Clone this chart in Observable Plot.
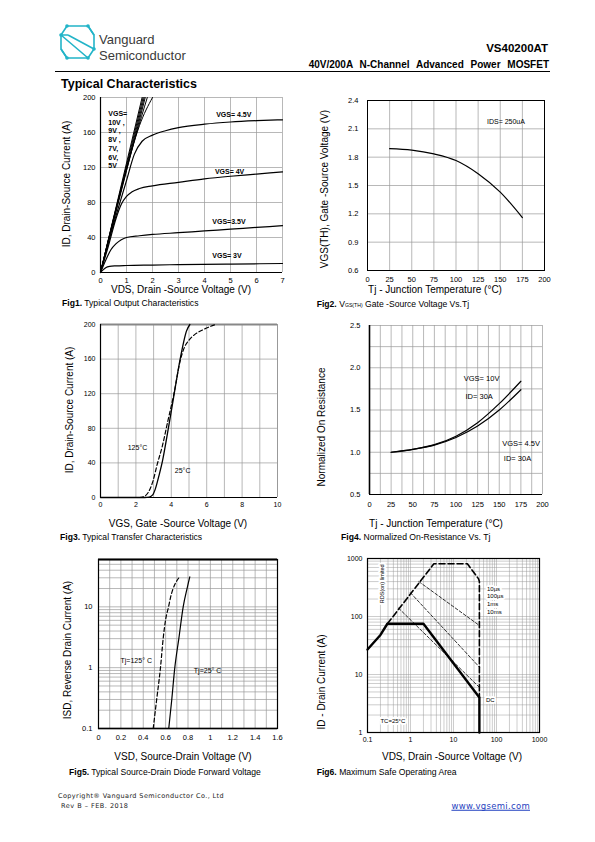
<!DOCTYPE html>
<html><head><meta charset="utf-8">
<script src="https://cdn.jsdelivr.net/npm/d3@7"></script>
<script src="https://cdn.jsdelivr.net/npm/@observablehq/plot@0.6"></script>
<style>
body{margin:0;background:#fff;}
#page{position:relative;width:595px;height:842px;overflow:hidden;font-family:"Liberation Sans",Arial,sans-serif;color:#000;}
.t{position:absolute;white-space:nowrap;line-height:1;}
sub{font-size:0.6em;vertical-align:-0.15em;}
</style></head><body><div id="page">
<svg style="position:absolute;left:55px;top:21px" width="46" height="42" viewBox="0 0 46 42">
 <g fill="none" stroke="#22b4c8" stroke-width="1.6" stroke-linejoin="round">
  <path d="M12,5 L33,5 L39,14 L39,28 L33,37 L12,37"/>
  <path d="M12,5 L6,14 L6,28 L12,37"/>
  <path d="M6,14 L33,37 M13,14 L39,28 M6,14 L13,14 M33,5 L39,14 M12,37 L6,28"/>
 </g>
 <g fill="#22b4c8"><circle cx="12" cy="5" r="1.8"/><circle cx="33" cy="5" r="1.8"/><circle cx="39" cy="28" r="1.8"/><circle cx="6" cy="14" r="1.8"/><circle cx="12" cy="37" r="1.8"/><circle cx="33" cy="37" r="1.8"/></g>
</svg>
</div>
<script>
// ---------- DATA ----------
// Fig1 output characteristics: [VDS, ID]
const f1_vds_ticks = [0,1,2,3,4,5,6,7];
const f1_id_ticks = [0,40,80,120,160,200];
const f1_vgs10 = [[0,0],[1.6,200]];
const f1_vgs9 = [[0,0],[1.64,200]];
const f1_vgs8 = [[0,0],[1.68,200]];
const f1_vgs7 = [[0,0],[1.72,200]];
const f1_vgs6 = [[0,0],[0.9,108],[1.8,200]];
const f1_vgs5 = [[0,0],[0.9,106],[1.5,168],[2.0,200]];
const f1_vgs45 = [[0,0],[0.5,55],[1,105],[1.3,135],[1.6,150],[2,157],[2.5,162],[3,165.5],[4,169.5],[5,172],[6,173.5],[7,174.5]];
const f1_vgs4 = [[0,0],[0.3,30],[0.6,62],[0.8,78],[1,87],[1.2,92],[1.5,96],[2,99],[3,103],[4,107],[5,110],[6,112.5],[7,115]];
const f1_vgs35 = [[0,0],[0.2,14],[0.4,26],[0.6,33],[0.8,37.5],[1,40],[1.5,42],[2,43.5],[3,45.5],[4,47.5],[5,49.5],[6,51.5],[7,53.5]];
const f1_vgs3 = [[0,0],[0.1,3],[0.2,5.5],[0.35,7],[0.6,7.6],[1,8],[2,8.5],[3,9],[5,9.6],[7,10.3]];
const f1_labels = [
  {t:"VGS= 4.5V", x:4.45, y:180.5},
  {t:"VGS= 4V", x:4.4, y:115},
  {t:"VGS=3.5V", x:4.3, y:58.5},
  {t:"VGS= 3V", x:4.3, y:19.5},
  {t:"VGS=\n10V ,\n9V ,\n8V ,\n7V,\n6V,\n5V", x:0.3, y:186}
];
// Fig2 threshold voltage vs Tj
const f2_tj_ticks = [0,25,50,75,100,125,150,175,200];
const f2_v_ticks = [0.6,0.9,1.2,1.5,1.8,2.1,2.4];
const f2_tj = [25,50,75,100,125,150,175];
const f2_vth = [1.89,1.875,1.835,1.765,1.625,1.43,1.16];
// Fig3 transfer characteristics [VGS, ID]
const f3_vgs_ticks = [0,2,4,6,8,10];
const f3_vgs_grid = [1,2,3,4,5,6,7,8,9,10];
const f3_id_ticks = [0,40,80,120,160,200];
const f3_25C = [[0,0],[2.5,0],[2.75,0.5],[2.95,3],[3.1,10],[3.3,25],[3.5,42],[3.75,70],[4.1,112],[4.5,160],[4.7,180],[4.85,192],[5.05,200]];
const f3_125C = [[0,0],[2.2,0],[2.45,1],[2.7,6],[2.95,18],[3.2,38],[3.5,60],[3.8,88],[4.15,120],[4.5,158],[4.75,174],[5.0,182],[5.3,188],[5.8,194],[6.5,200]];
// Fig4 normalized Rds(on) vs Tj
const f4_tj_ticks = [0,25,50,75,100,125,150,175,200];
const f4_r_ticks = [0.5,1.0,1.5,2.0,2.5];
const f4_tj = [25,50,75,100,125,150,175];
const f4_vgs10 = [1.0,1.035,1.09,1.19,1.35,1.575,1.84];
const f4_vgs45 = [1.0,1.035,1.085,1.175,1.31,1.5,1.74];
// Fig5 diode forward [VSD, ISD]
const f5_v_ticks = [0,0.2,0.4,0.6,0.8,1,1.2,1.4,1.6];
const f5_i_ticks = [0.1,1,10];
const f5_25C = [[0.628,0.1],[0.655,0.3],[0.682,1],[0.718,3],[0.757,10],[0.793,20.5],[0.816,31]];
const f5_125C = [[0.489,0.1],[0.52,0.3],[0.554,1],[0.578,3],[0.599,6],[0.626,10],[0.643,14],[0.724,31]];
// Fig6 SOA [VDS, ID]
const f6_v_ticks = [0.1,1,10,100,1000];
const f6_i_ticks = [1,10,100,1000];
const f6_dc = [[0.1,27],[0.2,48],[0.29,75],[2,75],[40,4],[40,1]];
const f6_10us = [[0.29,75],[3.5,810],[21,810],[38,450],[40,400],[40,4]];
const f6_100us = [[1.56,400],[40,70]];
const f6_1ms = [[1.0,256],[40,13.4]];
const f6_10ms = [[0.53,139],[40,6]];

// ---------- HELPERS ----------
const page = document.getElementById("page");
const FN = '"Liberation Sans Narrow","Liberation Sans",Arial,sans-serif';
const FA = '"Liberation Sans",Arial,sans-serif';
function txt(html, x, y, css, tr) {
  const d = document.createElement("div");
  d.className = "t"; d.innerHTML = html;
  d.style.left = x + "px"; d.style.top = y + "px";
  d.style.transform = tr || "translate(0,-50%)";
  Object.assign(d.style, css || {});
  page.appendChild(d); return d;
}
function xtitle(s, cx, cy) { txt(s, cx, cy, {fontSize:"10px"}, "translate(-50%,-50%)"); }
function ytitle(s, cx, cy) { txt(s, cx, cy, {fontSize:"10px"}, "translate(-50%,-50%) rotate(-90deg)"); }
function chart(frame, x, y, marks, font, fs) {
  const [x0,y0,x1,y1] = frame;
  const mL=44,mR=16,mT=10,mB=22;
  const svg = Plot.plot({
    width: x1-x0+mL+mR, height: y1-y0+mT+mB,
    marginLeft:mL, marginRight:mR, marginTop:mT, marginBottom:mB,
    x, y,
    style:{fontFamily:font, fontSize:fs+"px", color:"#000", background:"transparent", overflow:"visible"},
    marks
  });
  svg.style.position="absolute"; svg.style.left=(x0-mL)+"px"; svg.style.top=(y0-mT)+"px";
  page.appendChild(svg);
}
const G = {stroke:"#9a9a9a", strokeOpacity:1, strokeWidth:0.7};
const str = d => String(d);
function ln(data, o) { return Plot.line(data, {x:d=>d[0], y:d=>d[1], stroke:"#000", strokeWidth:1.2, curve:"monotone-x", ...o}); }
function minor(lo, hi) { const out=[]; for (let p=lo; p<hi; p++) for (let k=1;k<10;k++) out.push(k*Math.pow(10,p)); out.push(Math.pow(10,hi)); return out; }
const halo = {fill:"#000", stroke:"#fff", strokeWidth:4, paintOrder:"stroke"};

// ---------- HEADER / FOOTER ----------
txt("Vanguard", 99, 38.5, {fontSize:"13px", color:"#3a3a3a"});
txt("Semiconductor", 99, 55, {fontSize:"13px", color:"#3a3a3a"});
txt("VS40200AT", 548, 49, {fontSize:"11.5px", fontWeight:"bold"}, "translate(-100%,-50%)");
txt("40V/200A N-Channel Advanced Power MOSFET", 549, 65, {fontSize:"10px", fontWeight:"bold", wordSpacing:"4px"}, "translate(-100%,-50%)");
const hr = document.createElement("div");
Object.assign(hr.style,{position:"absolute",left:"55px",top:"71px",width:"495px",height:"1px",background:"#000"});
page.appendChild(hr);
txt("Typical Characteristics", 61, 84, {fontSize:"12.5px", fontWeight:"bold"});
txt("Copyright® Vanguard Semiconductor Co., Ltd", 58, 795.5, {fontSize:"6.5px", fontFamily:'"DejaVu Sans",sans-serif', letterSpacing:"0.4px", color:"#222"});
txt("Rev B – FEB. 2018", 61, 806.3, {fontSize:"6.5px", fontFamily:'"DejaVu Sans",sans-serif', letterSpacing:"0.5px", color:"#222"});
txt("www.vgsemi.com", 530, 806.3, {fontSize:"8.5px", fontFamily:'"DejaVu Sans",sans-serif', letterSpacing:"0.3px", color:"#1f3fc0", textDecoration:"underline"}, "translate(-100%,-50%)");

// captions
const cap = {fontSize:"8.6px"};
txt("<b>Fig1.</b> Typical Output Characteristics", 62, 302.5, cap);
txt("<b>Fig2.</b> V<sub>GS(TH)</sub> Gate -Source Voltage Vs.Tj", 316.7, 304, cap);
txt("<b>Fig3.</b> Typical Transfer Characteristics", 60, 537, cap);
txt("<b>Fig4.</b> Normalized On-Resistance Vs. Tj", 341, 537, cap);
txt("<b>Fig5.</b> Typical Source-Drain Diode Forward Voltage", 69, 771.7, cap);
txt("<b>Fig6.</b> Maximum Safe Operating Area", 316.7, 771.7, cap);

// axis titles
ytitle("ID, Drain-Source Current (A)", 67, 184);
xtitle("VDS, Drain -Source Voltage (V)", 181, 290);
ytitle("VGS(TH), Gate -Source Voltage (V)", 325, 189);
xtitle("Tj - Junction Temperature (°C)", 435, 290);
ytitle("ID, Drain-Source Current (A)", 70, 410);
xtitle("VGS, Gate -Source Voltage (V)", 178, 524);
ytitle("Normalized On Resistance", 322, 427);
xtitle("Tj - Junction Temperature (°C)", 436, 524);
ytitle("ISD, Reverse Drain Current (A)", 68, 650);
xtitle("VSD, Source-Drain Voltage (V)", 183, 757);
ytitle("ID - Drain Current (A)", 322, 682);
xtitle("VDS, Drain -Source Voltage (V)", 452, 757);

// ---------- FIG 1 ----------
chart([100,97,282,272], {domain:[0,7]}, {domain:[0,200]}, [
  Plot.gridX(f1_vds_ticks.slice(1), G),
  Plot.gridY(f1_id_ticks.slice(1), G),
  Plot.ruleX([0], {stroke:"#000", strokeWidth:1.2}),
  Plot.ruleY([0], {stroke:"#000", strokeWidth:1.2}),
  ...[f1_vgs10,f1_vgs9,f1_vgs8,f1_vgs7,f1_vgs6,f1_vgs5].map(s=>ln(s,{strokeWidth:1})),
  ln(f1_vgs45), ln(f1_vgs4), ln(f1_vgs35), ln(f1_vgs3),
  Plot.text(f1_labels.slice(0,4), {x:"x", y:"y", text:"t", textAnchor:"start", fontSize:7, fontFamily:FN, fontWeight:"bold"}),
  Plot.text(f1_labels.slice(4), {x:"x", y:"y", text:"t", textAnchor:"start", lineAnchor:"top", lineHeight:1.25, fontSize:7, fontFamily:FN, fontWeight:"bold"}),
  Plot.axisX(f1_vds_ticks, {tickSize:0, tickPadding:5, label:null, tickFormat:str}),
  Plot.axisY(f1_id_ticks, {tickSize:0, tickPadding:5, label:null, tickFormat:str})
], FN, 7.5);

// ---------- FIG 2 ----------
chart([367,100,544,270], {domain:[0,200]}, {domain:[0.6,2.4]}, [
  Plot.gridX(f2_tj_ticks, G),
  Plot.gridY(f2_v_ticks, G),
  Plot.frame({stroke:"#000", strokeWidth:1}),
  Plot.line(f2_tj.map((t,i)=>[t,f2_vth[i]]), {x:d=>d[0], y:d=>d[1], stroke:"#000", strokeWidth:1.2, curve:"monotone-x"}),
  Plot.text(["IDS= 250uA"], {x:135, y:2.17, text:d=>d, textAnchor:"start", fontSize:7, fontFamily:FN}),
  Plot.axisX(f2_tj_ticks, {tickSize:0, tickPadding:6, label:null, tickFormat:str}),
  Plot.axisY(f2_v_ticks, {tickSize:0, tickPadding:9, label:null, tickFormat:d3.format(".1f")})
], FN, 7.5);

// ---------- FIG 3 ----------
chart([100,324,277,497], {domain:[0,10]}, {domain:[0,200]}, [
  Plot.gridX(f3_vgs_grid, G),
  Plot.gridY(f3_id_ticks.slice(1,5), G),
  Plot.ruleY([200], {stroke:"#888", strokeWidth:2}),
  Plot.ruleX([10], {stroke:"#999", strokeWidth:1}),
  Plot.ruleX([0], {stroke:"#000", strokeWidth:1.2}),
  Plot.ruleY([0], {stroke:"#000", strokeWidth:1.2}),
  ln(f3_25C, {strokeWidth:1.3}),
  ln(f3_125C, {strokeWidth:1.2, strokeDasharray:"4,2.5"}),
  Plot.text(["125°C"], {x:2.09, y:57.5, text:d=>d, fontSize:7, fontFamily:FA}),
  Plot.text(["25°C"], {x:4.64, y:31, text:d=>d, fontSize:7, fontFamily:FA}),
  Plot.axisX(f3_vgs_ticks, {tickSize:0, tickPadding:5, label:null, tickFormat:str}),
  Plot.axisY(f3_id_ticks, {tickSize:0, tickPadding:5, label:null, tickFormat:str})
], FA, 7);

// ---------- FIG 4 ----------
const f4_xgrid = d3.range(12.5, 200.1, 12.5), f4_ygrid = d3.range(0.75, 2.51, 0.25);
chart([369,325,542,494], {domain:[0,200]}, {domain:[0.5,2.5]}, [
  Plot.gridX(f4_xgrid, G),
  Plot.gridY(f4_ygrid, G),
  Plot.ruleX([0], {stroke:"#000", strokeWidth:1.6}),
  Plot.ruleY([0.5], {stroke:"#000", strokeWidth:1.2}),
  Plot.line(f4_tj.map((t,i)=>[t,f4_vgs10[i]]), {x:d=>d[0], y:d=>d[1], stroke:"#000", strokeWidth:1.2, curve:"monotone-x"}),
  Plot.line(f4_tj.map((t,i)=>[t,f4_vgs45[i]]), {x:d=>d[0], y:d=>d[1], stroke:"#000", strokeWidth:1.2, curve:"monotone-x"}),
  Plot.text(["VGS= 10V","ID= 30A"], {x:[109,111], y:[1.87,1.66], text:d=>d, textAnchor:"start", fontSize:7.5, fontFamily:FN}),
  Plot.text(["VGS= 4.5V","ID= 30A"], {x:[153.4,155.3], y:[1.107,0.92], text:d=>d, textAnchor:"start", fontSize:7.5, fontFamily:FN}),
  Plot.axisX(f4_tj_ticks, {tickSize:0, tickPadding:7, label:null, tickFormat:str}),
  Plot.axisY(f4_r_ticks, {tickSize:0, tickPadding:9, label:null, tickFormat:d3.format(".1f")})
], FN, 7.5);

// ---------- FIG 5 ----------
chart([98,559,277,728], {domain:[0,1.6]}, {type:"log", domain:[0.1,60]}, [
  Plot.gridX(d3.range(1,17).map(k=>k/10), G),
  Plot.gridY(minor(-1,1).concat([20,30,40,50,60]), G),
  Plot.frame({stroke:"#000", strokeWidth:1.2}),
  Plot.ruleY([60], {stroke:"#000", strokeWidth:1.8}),
  Plot.ruleY([0.1], {stroke:"#000", strokeWidth:1.5}),
  ln(f5_25C, {strokeWidth:1.2}),
  ln(f5_125C, {strokeWidth:1.2, strokeDasharray:"4,2.5"}),
  Plot.text(["Tj=125° C"], {x:0.197, y:1.31, text:d=>d, textAnchor:"start", fontSize:7, fontFamily:FN}),
  Plot.text(["Tj=25° C"], {x:0.852, y:0.89, text:d=>d, textAnchor:"start", fontSize:7, fontFamily:FN}),
  Plot.axisX(f5_v_ticks, {tickSize:0, tickPadding:6, label:null, tickFormat:str}),
  Plot.axisY(f5_i_ticks, {tickSize:0, tickPadding:6, label:null, tickFormat:str})
], FN, 7.5);

// ---------- FIG 6 ----------
chart([367,558,539,732], {type:"log", domain:[0.1,1000]}, {type:"log", domain:[1,1000]}, [
  Plot.gridX(minor(-1,3), {...G, strokeWidth:0.5}),
  Plot.gridY(minor(0,3), {...G, strokeWidth:0.5}),
  Plot.frame({stroke:"#000", strokeWidth:1.2}),
  Plot.line(f6_100us, {x:d=>d[0], y:d=>d[1], stroke:"#000", strokeWidth:0.8, strokeDasharray:"3,2"}),
  Plot.line(f6_1ms, {x:d=>d[0], y:d=>d[1], stroke:"#000", strokeWidth:0.8, strokeDasharray:"3,2"}),
  Plot.line(f6_10ms, {x:d=>d[0], y:d=>d[1], stroke:"#000", strokeWidth:0.8, strokeDasharray:"3,2"}),
  Plot.line(f6_10us, {x:d=>d[0], y:d=>d[1], stroke:"#000", strokeWidth:1.6, strokeDasharray:"6,3"}),
  Plot.line(f6_dc, {x:d=>d[0], y:d=>d[1], stroke:"#000", strokeWidth:2.4}),
  Plot.text(["10µs\n100µs\n1ms\n10ms"], {x:60, y:349, text:d=>d, textAnchor:"start", lineAnchor:"top", lineHeight:1.3, fontSize:6, fontFamily:FA, ...halo}),
  Plot.text(["DC"], {x:57, y:3.56, text:d=>d, textAnchor:"start", fontSize:6, fontFamily:FA, ...halo}),
  Plot.text(["TC=25°C"], {x:0.2, y:1.57, text:d=>d, textAnchor:"start", fontSize:6, fontFamily:FA, ...halo}),
  Plot.text(["RDS(on) limited"], {x:0.22, y:366, text:d=>d, rotate:-90, fontSize:5.5, fontFamily:FA, ...halo}),
  Plot.axisX(f6_v_ticks, {tickSize:0, tickPadding:5, label:null, tickFormat:str}),
  Plot.axisY(f6_i_ticks, {tickSize:0, tickPadding:5, label:null, tickFormat:str})
], FN, 7);
</script></body></html>
